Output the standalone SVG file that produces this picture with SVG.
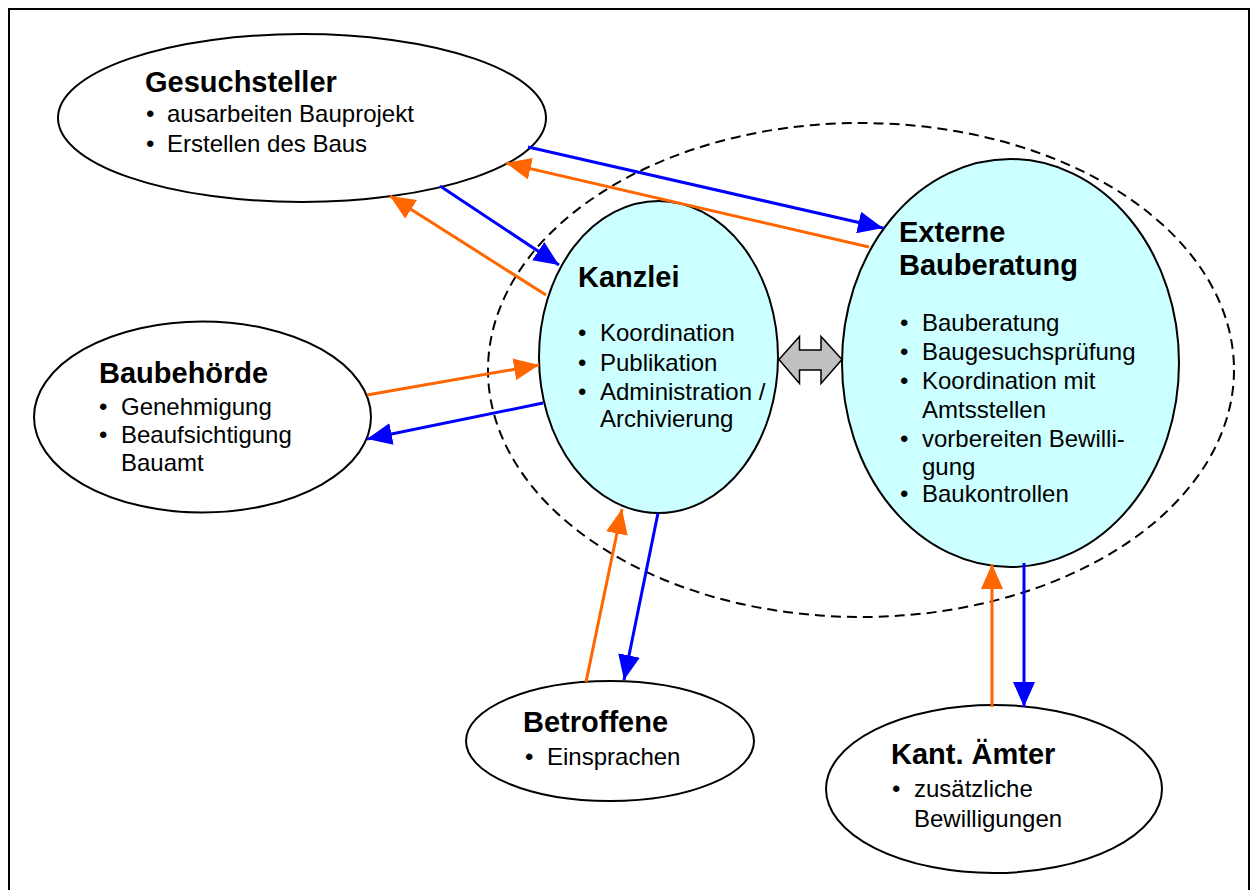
<svg xmlns="http://www.w3.org/2000/svg" width="1258" height="890" viewBox="0 0 1258 890">
<style>
.node{stroke:#000;stroke-width:2}
.w{fill:#fff}
.c{fill:#CCFFFF}
.t{font-family:"Liberation Sans",Arial,sans-serif;font-weight:bold;font-size:29px;fill:#000}
.b{font-family:"Liberation Sans",Arial,sans-serif;font-size:24px;fill:#000}
.blue{stroke:#0000FF;stroke-width:3;fill:none;marker-end:url(#ab)}
.orange{stroke:#FF6600;stroke-width:3;fill:none;marker-end:url(#ao)}
</style>
<defs>
<marker id="ab" markerWidth="26" markerHeight="22" refX="25" refY="11" orient="auto" markerUnits="userSpaceOnUse"><path d="M0,0 L25,11 L0,22 z" fill="#0000FF"/></marker>
<marker id="ao" markerWidth="26" markerHeight="22" refX="25" refY="11" orient="auto" markerUnits="userSpaceOnUse"><path d="M0,0 L25,11 L0,22 z" fill="#FF6600"/></marker>
</defs>
<rect x="0" y="0" width="1258" height="890" fill="#fff"/>
<rect x="9" y="9" width="1240" height="900" fill="none" stroke="#000" stroke-width="2"/>
<ellipse id="boundary" cx="861" cy="370" rx="373" ry="247" fill="none" stroke="#000" stroke-width="2" stroke-dasharray="10,6"/>

<g id="gesuchsteller">
<ellipse class="node w" cx="302" cy="118" rx="244" ry="84"/>
<text class="t" x="145" y="92">Gesuchsteller</text>
<text class="b" x="146" y="122">•<tspan x="167">ausarbeiten Bauprojekt</tspan></text>
<text class="b" x="146" y="152">•<tspan x="167">Erstellen des Baus</tspan></text>
</g>

<g id="baubehoerde">
<ellipse class="node w" cx="202.5" cy="417" rx="168.5" ry="95.5"/>
<text class="t" x="99" y="383">Baubehörde</text>
<text class="b" x="99" y="415">•<tspan x="121">Genehmigung</tspan></text>
<text class="b" x="99" y="443">•<tspan x="121">Beaufsichtigung</tspan></text>
<text class="b" x="121" y="471">Bauamt</text>
</g>

<g id="kanzlei">
<ellipse class="node c" cx="658.5" cy="357" rx="119.5" ry="156"/>
<text class="t" x="578" y="287">Kanzlei</text>
<text class="b" x="578" y="341">•<tspan x="600">Koordination</tspan></text>
<text class="b" x="578" y="371">•<tspan x="600">Publikation</tspan></text>
<text class="b" x="578" y="400">•<tspan x="600">Administration /</tspan></text>
<text class="b" x="600" y="427">Archivierung</text>
</g>

<g id="externe">
<ellipse class="node c" cx="1010.5" cy="363" rx="168.5" ry="204"/>
<text class="t" x="899" y="242">Externe</text>
<text class="t" x="899" y="275">Bauberatung</text>
<text class="b" x="900" y="331">•<tspan x="922">Bauberatung</tspan></text>
<text class="b" x="900" y="360">•<tspan x="922">Baugesuchsprüfung</tspan></text>
<text class="b" x="900" y="389">•<tspan x="922">Koordination mit</tspan></text>
<text class="b" x="922" y="418">Amtsstellen</text>
<text class="b" x="900" y="447">•<tspan x="922">vorbereiten Bewilli-</tspan></text>
<text class="b" x="922" y="475">gung</text>
<text class="b" x="900" y="502">•<tspan x="922">Baukontrollen</tspan></text>
</g>

<g id="betroffene">
<ellipse class="node w" cx="610" cy="741" rx="144" ry="60"/>
<text class="t" x="523" y="732">Betroffene</text>
<text class="b" x="525" y="765">•<tspan x="547">Einsprachen</tspan></text>
</g>

<g id="kantaemter">
<ellipse class="node w" cx="994" cy="789" rx="168" ry="84"/>
<text class="t" x="891" y="764">Kant. Ämter</text>
<text class="b" x="892" y="797">•<tspan x="914">zusätzliche</tspan></text>
<text class="b" x="914" y="827">Bewilligungen</text>
</g>

<g id="connectors">
<line class="blue" x1="528" y1="147" x2="883" y2="228"/>
<line class="orange" x1="869" y1="247" x2="506" y2="163"/>
<line class="blue" x1="440" y1="186" x2="559" y2="265"/>
<line class="orange" x1="546" y1="295" x2="390" y2="196"/>
<line class="orange" x1="367" y1="395" x2="539" y2="365"/>
<line class="blue" x1="543" y1="403" x2="367" y2="439"/>
<line class="orange" x1="586" y1="682" x2="622" y2="509"/>
<line class="blue" x1="658" y1="513" x2="624" y2="680"/>
<line class="orange" x1="992" y1="707" x2="992" y2="564"/>
<line class="blue" x1="1024" y1="563" x2="1024" y2="707"/>
<path id="double-arrow" d="M779,359.5 L799.5,336.5 L799.5,350 L821,350 L821,336.5 L842,359.5 L821,383.5 L821,370 L799.5,370 L799.5,383.5 Z" fill="#C0C0C0" stroke="#000" stroke-width="1.5"/>
</g>
</svg>
